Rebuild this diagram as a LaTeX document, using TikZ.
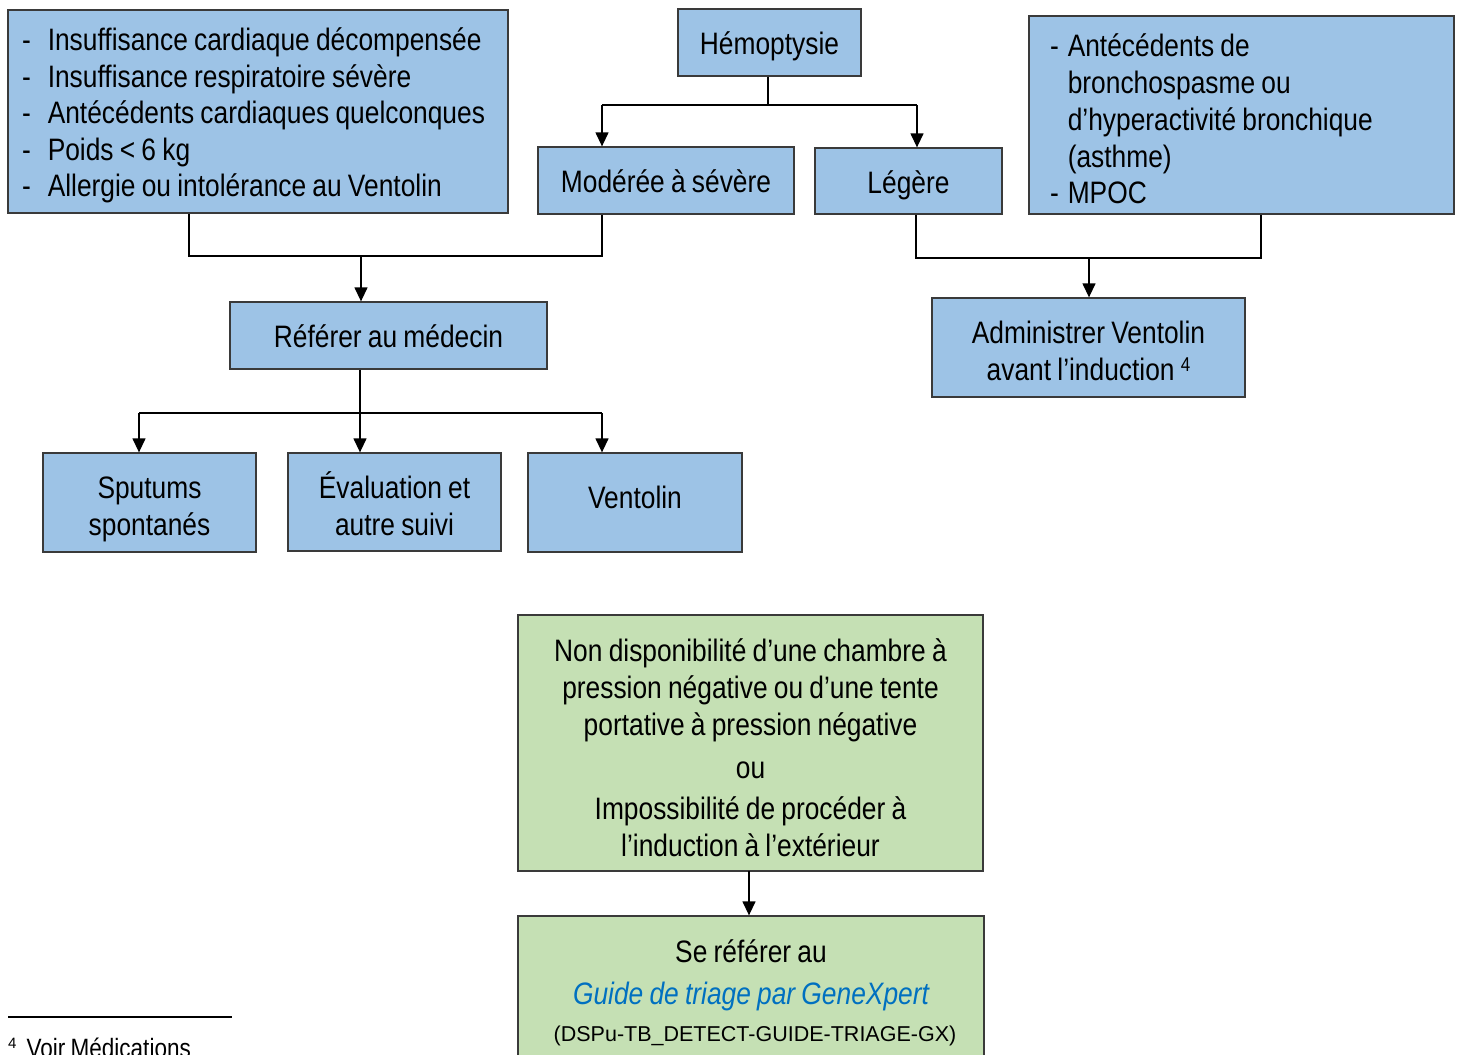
\documentclass[tikz,border=0pt]{standalone}
\usepackage{fontspec}
\setmainfont[FakeStretch=0.85,WordSpace=0.85]{Liberation Sans}
\newfontfamily\regfont{Liberation Sans}
\usetikzlibrary{arrows.meta}
\definecolor{boxblue}{HTML}{9DC3E6}
\definecolor{boxgreen}{HTML}{C5E0B4}
\definecolor{boxline}{HTML}{3A3A3A}
\definecolor{linkblue}{HTML}{0070C0}
% centred lines of text, drawn #1 pt lower than their natural place
\newcommand\lns[2]{\raisebox{-#1pt}[\height][\depth]{\begin{tabular}{@{}c@{}}#2\end{tabular}}}
\newcommand\lst[3]{\raisebox{-#1pt}[\height][\depth]{\spaceskip=0pt\xspaceskip=0pt\begin{tabular}{@{}l@{\hspace{#2pt}}l@{}}#3\end{tabular}}}
\begin{document}
\begin{tikzpicture}[x=1pt,y=-1pt,
  bbox/.style={draw=boxline, line width=1.3pt, fill=boxblue, inner sep=0pt, align=center,
    font=\fontsize{31}{37}\selectfont},
  gbox/.style={bbox, fill=boxgreen},
  conn/.style={line width=1.3pt, draw=black},
  arr/.style={conn, -{Triangle[length=14pt,width=13pt]}},
  txt/.style={inner sep=0pt, font=\fontsize{31}{37}\selectfont}]
\useasboundingbox (0,0) rectangle (1460,1055);

% boxes
\node[bbox, minimum width=500pt, minimum height=203pt, text width=472pt, align=left,
      font=\fontsize{31}{36.5}\selectfont] (crit) at (258,111.5)
 {\lst{5}{17}{
  -& Insuffisance cardiaque décompensée\\
  -& Insuffisance respiratoire sévère\\
  -& Antécédents cardiaques quelconques\\
  -& Poids < 6 kg\\
  -& Allergie ou intolérance au Ventolin}};
\node[bbox, minimum width=183pt, minimum height=67pt] (hemo) at (769.5,42.5) {\lns{5}{Hémoptysie}};
\node[bbox, minimum width=256pt, minimum height=67pt] (mod) at (666,180.5) {\lns{5}{Modérée à sévère}};
\node[bbox, minimum width=187pt, minimum height=66pt] (leg) at (908.5,181) {\lns{5.5}{Légère}};
\node[bbox, minimum width=425pt, minimum height=198pt, text width=383pt, align=left,
      font=\fontsize{31}{36.75}\selectfont] (asth) at (1241.5,115)
 {\lst{8}{9}{
  -& Antécédents de\\
   & bronchospasme ou\\
   & d’hyperactivité bronchique\\
   & (asthme)\\
  -& MPOC}};
\node[bbox, minimum width=317pt, minimum height=67pt] (ref) at (388.5,335.5) {\lns{5}{Référer au médecin}};
\node[bbox, minimum width=313pt, minimum height=99pt] (adm) at (1088.5,347.5)
 {\lns{7.5}{Administrer Ventolin\\avant l’induction \raisebox{9pt}{\fontsize{20}{20}\selectfont 4}}};
\node[bbox, minimum width=213pt, minimum height=99pt] (sput) at (149.5,502.5) {\lns{7.5}{Sputums\\spontanés}};
\node[bbox, minimum width=213pt, minimum height=98pt] (eval) at (394.5,502) {\lns{7}{Évaluation et\\autre suivi}};
\node[bbox, minimum width=214pt, minimum height=99pt] (vent) at (635,502.5) {\lns{-1}{Ventolin}};
\node[gbox, minimum width=465pt, minimum height=256pt] (nd) at (750.5,743)
 {\lns{9}{Non disponibilité d’une chambre à\\
  pression négative ou d’une tente\\
  portative à pression négative\\[6pt]
  ou\\[4pt]
  Impossibilité de procéder à\\
  l’induction à l’extérieur}};
\node[gbox, minimum width=466pt, minimum height=160pt] (guide) at (751,996) {};
\node[txt, anchor=base] (g2a) at (751,962) {Se référer au};
\node[txt, anchor=base] (g2b) at (751,1004) {\itshape\color{linkblue}Guide de triage par GeneXpert};
\node[inner sep=0pt, anchor=base] (g2c) at (755,1041) {\regfont\fontsize{21.5}{24}\selectfont (DSPu-TB\_DETECT-GUIDE-TRIAGE-GX)};

% connectors
\coordinate (ja) at (602,105);
\coordinate (jb) at (917,105);
\draw[conn] (hemo.south -| 768,0) -- (768,105);
\draw[conn] (ja) -- (jb);
\draw[arr] (ja) -- (ja |- mod.north);
\draw[arr] (jb) -- (jb |- leg.north);

\coordinate (ka) at (189,256);
\coordinate (kb) at (602,256);
\coordinate (kc) at (361,256);
\draw[conn] (ka |- crit.south) -- (ka) -- (kb) -- (kb |- mod.south);
\draw[arr] (kc) -- (kc |- ref.north);

\coordinate (la) at (916,258);
\coordinate (lb) at (1261,258);
\coordinate (lc) at (1089,258);
\draw[conn] (la |- leg.south) -- (la) -- (lb) -- (lb |- asth.south);
\draw[arr] (lc) -- (lc |- adm.north);

\coordinate (ma) at (139,413);
\coordinate (mb) at (360,413);
\coordinate (mc) at (602,413);
\draw[conn] (mb |- ref.south) -- (mb);
\draw[conn] (ma) -- (mc);
\draw[arr] (ma) -- (ma |- sput.north);
\draw[arr] (mb) -- (mb |- eval.north);
\draw[arr] (mc) -- (mc |- vent.north);

\coordinate (na) at (749,871);
\draw[arr] (na) -- (na |- guide.north);

% footnote
\coordinate (fa) at (8,1017);
\coordinate (fb) at (232,1017);
\draw[line width=1.2pt] (fa) -- (fb);
\node[inner sep=0pt, anchor=base west] (fn) at (8,1057)
 {\raisebox{9pt}{\regfont\fontsize{15}{15}\selectfont 4}\hspace{10pt}{\fontsize{26.5}{28}\selectfont Voir Médications}};
\end{tikzpicture}
\end{document}
